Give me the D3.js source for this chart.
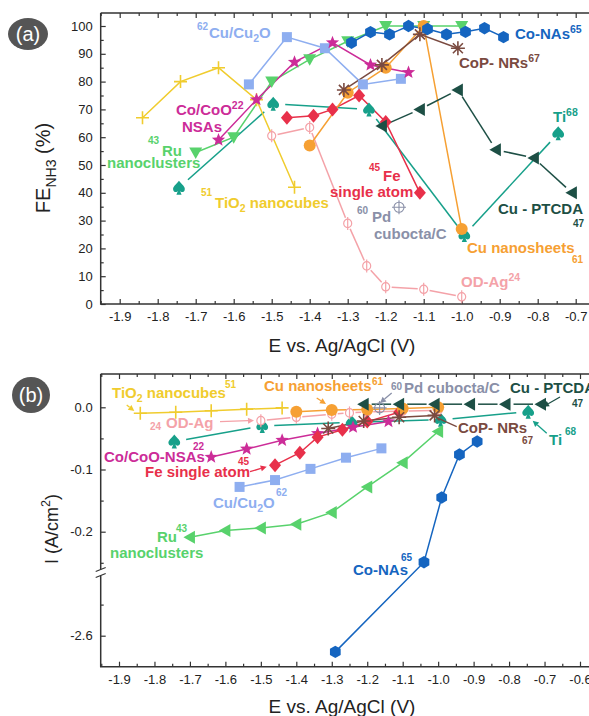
<!DOCTYPE html>
<html><head><meta charset="utf-8">
<script src="https://cdn.jsdelivr.net/npm/d3@7"></script>
<style>
body{margin:0;background:#fff;overflow:hidden}
text{font-family:"Liberation Sans",Arial,Helvetica,sans-serif}
</style>
</head><body>
<svg id="c" width="589" height="716"></svg>
<script>
// ---------------- DATA ----------------
const xTicksA = [-1.9,-1.8,-1.7,-1.6,-1.5,-1.4,-1.3,-1.2,-1.1,-1.0,-0.9,-0.8,-0.7];
const yTicksA = [0,10,20,30,40,50,60,70,80,90,100];
const xTicksB = [-1.9,-1.8,-1.7,-1.6,-1.5,-1.4,-1.3,-1.2,-1.1,-1.0,-0.9,-0.8,-0.7,-0.6];
const yTicksBUpper = [0.0,-0.1,-0.2];
const yTicksBLower = [-2.6];

const tio2E  = [-1.84,-1.74,-1.64,-1.54,-1.44];
const tio2FE = [67,80,85,73.5,42];
const tio2I  = [-0.0095,-0.008,-0.0055,-0.003,-0.001];

const cu2oE  = [-1.56,-1.46,-1.36,-1.26,-1.16];
const cu2oFE = [79,96,92,79,81];
const cu2oI  = [-0.128,-0.117,-0.099,-0.081,-0.066];

const cocoE  = [-1.64,-1.54,-1.44,-1.34,-1.24,-1.14];
const cocoFE = [59,73.5,87,94,86,83.3];
const cocoI  = [-0.080,-0.067,-0.053,-0.042,-0.032,-0.023];

const ruE  = [-1.7,-1.6,-1.5,-1.4,-1.3,-1.2,-1.1,-1.0];
const ruFE = [54.5,60,80,88,94.5,100,100,100];
const ruI  = [-0.209,-0.198,-0.194,-0.188,-0.169,-0.128,-0.089,-0.039];

const conasEA = [-1.29,-1.24,-1.19,-1.14,-1.09,-1.04,-0.99,-0.94,-0.89];
const conasFE = [94,97.8,97,100,98.9,97,97.9,99.2,96];
const conasEB = [-1.29,-1.04,-0.99,-0.94,-0.89];
const conasI  = [-2.626,-0.249,-0.145,-0.076,-0.055];

const copE  = [-1.31,-1.21,-1.11,-1.01];
const copFE = [77,86,97,92];
const copI  = [-0.034,-0.022,-0.016,-0.013];

const cunsE  = [-1.4,-1.3,-1.2,-1.1,-1.0];
const cunsFE = [57,76,85,100,27];
const cunsI  = [-0.007,-0.0045,-0.0035,-0.002,0.0];

const feE  = [-1.46,-1.39,-1.34,-1.27,-1.2,-1.11];
const feFE = [67,67.7,70,75,65.5,40];
const feI  = [-0.093,-0.073,-0.048,-0.036,-0.023,-0.008];

const agE  = [-1.5,-1.4,-1.3,-1.25,-1.2,-1.1,-1.0];
const agFE = [60.5,63.5,29,13.7,6.2,5.3,2.6];
const agI  = [-0.0215,-0.016,-0.011,-0.009,-0.0075,-0.006,-0.005];

const pdE  = [-1.165];
const pdFE = [34.8];
const pdI  = [-0.001];

const tiE  = [-1.744,-1.496,-1.244,-0.993,-0.746];
const tiFE = [41.8,72,70,24.8,61.4];
const tiI  = [-0.055,-0.030,-0.024,-0.020,-0.007];

const ptcdaE  = [-1.21,-1.11,-1.01,-0.91,-0.81,-0.71];
const ptcdaFE = [64,70,77,55.5,52.5,40];
const ptcdaI  = [0.005,0.005,0.005,0.005,0.005,0.005];

// ---------------- STYLE ----------------
const C = {
  tio2:"#f0cc2e", cu2o:"#8eaef0", coco:"#cc2c98", ru:"#58d26c", conas:"#1565c0",
  cop:"#7a4a40", cuns:"#f6a033", fe:"#e8304a", ag:"#f4a2a8", pd:"#8a90a8",
  ti:"#17a08a", ptcda:"#1d4f45"
};

const series = [
  {k:"ti",    m:"spade",  gapA:12, gapB:12, eA:tiE, fe:tiFE, eB:tiE, I:tiI},
  {k:"ag",    m:"phi",    gapA:6,  gapB:6,  eA:agE, fe:agFE, eB:agE, I:agI},
  {k:"tio2",  m:"plus",   gapA:0,  gapB:0,  eA:tio2E, fe:tio2FE, eB:tio2E, I:tio2I},
  {k:"cu2o",  m:"square", gapA:0,  gapB:0,  eA:cu2oE, fe:cu2oFE, eB:cu2oE, I:cu2oI},
  {k:"ru",    m:"tridown",mB:"trileft", gapA:0, gapB:0, eA:ruE, fe:ruFE, eB:ruE, I:ruI},
  {k:"coco",  m:"star",   gapA:0,  gapB:0,  eA:cocoE, fe:cocoFE, eB:cocoE, I:cocoI},
  {k:"fe",    m:"diamond",gapA:0,  gapB:0,  eA:feE, fe:feFE, eB:feE, I:feI},
  {k:"cuns",  m:"circle", gapA:0,  gapB:0,  eA:cunsE, fe:cunsFE, eB:cunsE, I:cunsI},
  {k:"cop",   m:"aster",  gapA:0,  gapB:0,  eA:copE, fe:copFE, eB:copE, I:copI},
  {k:"ptcda", m:"trileft",gapA:8,  gapB:8,  eA:ptcdaE, fe:ptcdaFE, eB:ptcdaE, I:ptcdaI},
  {k:"pd",    m:"oplus",  gapA:0,  gapB:0,  eA:pdE, fe:pdFE, eB:pdE, I:pdI},
  {k:"conas", m:"hex",    gapA:0,  gapB:0,  eA:conasEA, fe:conasFE, eB:conasEB, I:conasI},
];

// ---------------- SCALES ----------------
const xa = d3.scaleLinear().domain([-1.9,-0.7]).range([119.7,575.7]);
const ya = d3.scaleLinear().domain([0,100]).range([304,26]);
const xb = d3.scaleLinear().domain([-1.9,-0.6]).range([119,580]);
const ybU = d3.scaleLinear().domain([-0.2,0]).range([531.7,407.3]);
const ybL = d3.scaleLinear().domain([-2.6,-2.5]).range([635.7,573.5]);
const yb = v => v < -1 ? ybL(v) : ybU(v);

const A = {l:100.7, t:13, b:304};
const B = {l:100.7, t:374, b:666.7};

const svg = d3.select("#c");
svg.append("rect").attr("width",589).attr("height",716).attr("fill","#fff");

// ---------------- MARKERS ----------------
function starPath(R,r){
  let p=[];
  for(let i=0;i<10;i++){
    const a=-Math.PI/2+i*Math.PI/5, rr=i%2?r:R;
    p.push([rr*Math.cos(a), rr*Math.sin(a)]);
  }
  return "M"+p.map(d=>d.join(",")).join("L")+"Z";
}
function hexPath(R){
  let p=[];
  for(let i=0;i<6;i++){const a=-Math.PI/2+i*Math.PI/3;p.push([R*Math.cos(a),R*Math.sin(a)]);}
  return "M"+p.map(d=>d.join(",")).join("L")+"Z";
}
const spadeD = "M0,-7 C2.5,-3.5 7,-1 5.6,2.6 C4.6,5 1.8,4.8 0.9,2.6 L2.6,7 L-2.6,7 L-0.9,2.6 C-1.8,4.8 -4.6,5 -5.6,2.6 C-7,-1 -2.5,-3.5 0,-7 Z";

function marker(g, type, x, y, col){
  const t = g.append("g").attr("transform",`translate(${x},${y})`);
  switch(type){
    case "plus":
      t.append("path").attr("d","M-6.5,0H6.5M0,-6.5V6.5").attr("stroke",col).attr("stroke-width",1.6).attr("fill","none"); break;
    case "square":
      t.append("rect").attr("x",-5).attr("y",-5).attr("width",10).attr("height",10).attr("fill",col); break;
    case "star":
      t.append("path").attr("d",starPath(7,3)).attr("fill",col); break;
    case "tridown":
      t.append("path").attr("d","M-6.5,-5L6.5,-5L0,6.5Z").attr("fill",col); break;
    case "trileft":
      t.append("path").attr("d","M-6.5,0L5,-6.5L5,6.5Z").attr("fill",col); break;
    case "hex":
      t.append("path").attr("d",hexPath(6.2)).attr("fill",col); break;
    case "aster":
      t.append("path").attr("d","M-7,0H7M0,-7V7M-5,-5L5,5M-5,5L5,-5").attr("stroke",col).attr("stroke-width",1.6); break;
    case "circle":
      t.append("circle").attr("r",6).attr("fill",col); break;
    case "diamond":
      t.append("path").attr("d","M0,-7L6,0L0,7L-6,0Z").attr("fill",col); break;
    case "phi":
      t.append("ellipse").attr("rx",4).attr("ry",4.2).attr("fill","#fff").attr("stroke",col).attr("stroke-width",1.2);
      t.append("path").attr("d","M0,-6.5V6.5").attr("stroke",col).attr("stroke-width",1.2); break;
    case "oplus":
      t.append("circle").attr("r",5).attr("fill","none").attr("stroke",col).attr("stroke-width",1.1);
      t.append("path").attr("d","M-7,0H7M0,-7V7").attr("stroke",col).attr("stroke-width",1.1); break;
    case "spade":
      t.append("path").attr("d",spadeD).attr("fill",col); break;
  }
}

function drawSeries(g, pts, col, gap){
  if(gap>0){
    for(let i=0;i<pts.length-1;i++){
      const [x1,y1]=pts[i],[x2,y2]=pts[i+1];
      const dx=x2-x1, dy=y2-y1, L=Math.hypot(dx,dy);
      if(L<=2*gap) continue;
      const ux=dx/L, uy=dy/L;
      g.append("line").attr("x1",x1+ux*gap).attr("y1",y1+uy*gap).attr("x2",x2-ux*gap).attr("y2",y2-uy*gap)
        .attr("stroke",col).attr("stroke-width",1.5);
    }
  } else {
    g.append("path").attr("d",d3.line()(pts)).attr("fill","none").attr("stroke",col).attr("stroke-width",1.5);
  }
}

// ---------------- TEXT HELPER ----------------
function rich(g, x, y, str, col, size, opts={}){
  const t = g.append("text").attr("x",x).attr("y",y).attr("fill",col)
    .attr("font-size",size).attr("font-weight",opts.w||"bold");
  if(opts.anchor) t.attr("text-anchor",opts.anchor);
  if(opts.rot) t.attr("transform",`rotate(${opts.rot},${x},${y})`);
  const re = /([_^])\{([^}]*)\}/g;
  let last=0, m, cur=0;
  const parts=[];
  while((m=re.exec(str))){ if(m.index>last) parts.push({t:str.slice(last,m.index)}); parts.push({t:m[2],s:m[1]}); last=re.lastIndex; }
  if(last<str.length) parts.push({t:str.slice(last)});
  parts.forEach(p=>{
    const target = p.s==="^" ? -size*0.42 : p.s==="_" ? size*0.28 : 0;
    const fs = p.s ? size*0.7 : size;
    t.append("tspan").attr("dy",target-cur).attr("font-size",fs).text(p.t);
    cur=target;
  });
  return t;
}

// ---------------- AXES ----------------
const fmt = d => d.toFixed(1);
function minorBetween(arr){ const o=[]; for(let i=0;i<arr.length-1;i++) o.push((arr[i]+arr[i+1])/2); return o; }

function styleAxis(sel){
  sel.select(".domain").remove();
  sel.selectAll(".tick line").attr("stroke","#333").attr("stroke-width",1.2);
  sel.selectAll(".tick text").attr("fill","#222").attr("font-size",13).attr("font-family","Liberation Sans, Arial, sans-serif");
}

// Panel A
const gA = svg.append("g");
const xMinA = minorBetween(xTicksA).concat([-1.95,-0.65]);
gA.append("g").attr("transform",`translate(0,${A.b})`).call(d3.axisBottom(xa).tickValues(xTicksA).tickSize(-5).tickPadding(8).tickFormat(d=>d.toFixed(1))).call(styleAxis);
gA.append("g").attr("transform",`translate(0,${A.b})`).call(d3.axisBottom(xa).tickValues(xMinA).tickSize(-3).tickFormat("")).call(styleAxis);
gA.append("g").attr("transform",`translate(0,${A.t})`).call(d3.axisTop(xa).tickValues(xTicksA).tickSize(-5).tickFormat("")).call(styleAxis);
gA.append("g").attr("transform",`translate(0,${A.t})`).call(d3.axisTop(xa).tickValues(xMinA).tickSize(-3).tickFormat("")).call(styleAxis);
gA.append("g").attr("transform",`translate(${A.l},0)`).call(d3.axisLeft(ya).tickValues(yTicksA).tickSize(-5).tickPadding(8).tickFormat(d=>d)).call(styleAxis);
gA.append("g").attr("transform",`translate(${A.l},0)`).call(d3.axisLeft(ya).tickValues(minorBetween(yTicksA)).tickSize(-3).tickFormat("")).call(styleAxis);
gA.append("path").attr("d",`M${A.l},${A.t}V${A.b}H600M${A.l},${A.t}H600`).attr("fill","none").attr("stroke","#333").attr("stroke-width",1.5);

// Panel B
const gB = svg.append("g");
const xMinB = minorBetween(xTicksB).concat([-1.95,-0.55]);
gB.append("g").attr("transform",`translate(0,${B.b})`).call(d3.axisBottom(xb).tickValues(xTicksB).tickSize(-5).tickPadding(8).tickFormat(d=>d.toFixed(1))).call(styleAxis);
gB.append("g").attr("transform",`translate(0,${B.b})`).call(d3.axisBottom(xb).tickValues(xMinB).tickSize(-3).tickFormat("")).call(styleAxis);
gB.append("g").attr("transform",`translate(0,${B.t})`).call(d3.axisTop(xb).tickValues(xTicksB).tickSize(-5).tickFormat("")).call(styleAxis);
gB.append("g").attr("transform",`translate(0,${B.t})`).call(d3.axisTop(xb).tickValues(xMinB).tickSize(-3).tickFormat("")).call(styleAxis);
gB.append("g").attr("transform",`translate(${B.l},0)`).call(d3.axisLeft(ybU).tickValues(yTicksBUpper).tickSize(-5).tickPadding(8).tickFormat(fmt)).call(styleAxis);
gB.append("g").attr("transform",`translate(${B.l},0)`).call(d3.axisLeft(ybU).tickValues([-0.05,-0.15,-0.25]).tickSize(-3).tickFormat("")).call(styleAxis);
gB.append("g").attr("transform",`translate(${B.l},0)`).call(d3.axisLeft(ybL).tickValues(yTicksBLower).tickSize(-5).tickPadding(8).tickFormat(fmt)).call(styleAxis);
gB.append("g").attr("transform",`translate(${B.l},0)`).call(d3.axisLeft(ybL).tickValues([-2.55]).tickSize(-3).tickFormat("")).call(styleAxis);
const brk = 572.5;
gB.append("path").attr("d",`M${B.l},${B.t}V${brk-3}M${B.l},${brk+3}V${B.b}H600M${B.l},${B.t}H600`).attr("fill","none").attr("stroke","#333").attr("stroke-width",1.5);
gB.append("path").attr("d",`M${B.l-5},${brk-1}L${B.l+5},${brk-5}M${B.l-5},${brk+5}L${B.l+5},${brk+1}`).attr("stroke","#333").attr("stroke-width",1.2);

// axis titles
rich(svg, 342, 352, "E vs. Ag/AgCl (V)", "#222", 19, {w:"normal",anchor:"middle"});
rich(svg, 342, 713, "E vs. Ag/AgCl (V)", "#222", 19, {w:"normal",anchor:"middle"});
rich(svg, 50, 168, "FE_{NH3} (%)", "#222", 20, {w:"normal",anchor:"middle",rot:-90});
rich(svg, 58, 529, "I (A/cm^{2})", "#222", 18, {w:"normal",anchor:"middle",rot:-90});

// badges
svg.append("ellipse").attr("cx",28).attr("cy",34).attr("rx",20).attr("ry",16).attr("fill","#555");
svg.append("text").attr("x",28).attr("y",41).attr("text-anchor","middle").attr("fill","#fff").attr("font-size",20).text("(a)");
svg.append("ellipse").attr("cx",31).attr("cy",395).attr("rx",19).attr("ry",18).attr("fill","#555");
svg.append("text").attr("x",31).attr("y",402).attr("text-anchor","middle").attr("fill","#fff").attr("font-size",20).text("(b)");

// ---------------- SERIES ----------------
const dA = svg.append("g"), dB = svg.append("g");
series.forEach(s=>{
  const col = C[s.k];
  const pA = s.eA.map((e,i)=>[xa(e), ya(s.fe[i])]);
  drawSeries(dA, pA, col, s.gapA);
  const pB = s.eB.map((e,i)=>[xb(e), yb(s.I[i])]);
  drawSeries(dB, pB, col, s.gapB);
});
series.forEach(s=>{
  const col = C[s.k];
  s.eA.forEach((e,i)=>marker(dA, s.m, xa(e), ya(s.fe[i]), col));
  s.eB.forEach((e,i)=>marker(dB, s.mB||s.m, xb(e), yb(s.I[i]), col));
});

// ---------------- ANNOTATIONS ----------------
const annA = [
  ["62",197,30,C.cu2o,10], ["Cu/Cu_{2}O",209,38,C.cu2o,15],
  ["Co-NAs^{65}",515,39,C.conas,15],
  ["CoP- NRs^{67}",459,68,C.cop,15],
  ["Co/CoO^{22}",176,115,C.coco,15], ["NSAs",182,132,C.coco,15],
  ["43",148,144,C.ru,10], ["Ru",162,156,C.ru,15], ["nanoclusters",107,168,C.ru,15],
  ["51",201,196,C.tio2,10], ["TiO_{2} nanocubes",215,208,C.tio2,15],
  ["45",369,171,C.fe,10], ["Fe",383,181,C.fe,15], ["single atom",330,197,C.fe,15],
  ["60",357,214,C.pd,10], ["Pd",372,222,C.pd,15], ["cubocta/C",374,239,C.pd,15],
  ["Cu nanosheets",467,253,C.cuns,15], ["61",572,263,C.cuns,10],
  ["OD-Ag^{24}",461,287,C.ag,15],
  ["Cu - PTCDA",498,214,C.ptcda,15], ["47",573,227,C.ptcda,10],
  ["Ti^{68}",553,122,C.ti,15],
];
const annB = [
  ["TiO_{2} nanocubes",112,398,C.tio2,15], ["51",225,388,C.tio2,10],
  ["Cu nanosheets",264,391,C.cuns,15], ["61",372,385,C.cuns,10],
  ["60",391,390,C.pd,10], ["Pd cubocta/C",404,393,C.pd,15],
  ["Cu - PTCDA",510,393,C.ptcda,15], ["47",572,407,C.ptcda,10],
  ["24",150,430,C.ag,10], ["OD-Ag",166,428,C.ag,15],
  ["Co/CoO-NSAs",104,462,C.coco,15], ["22",193,450,C.coco,10],
  ["Fe single atom",145,477,C.fe,15], ["45",238,465,C.fe,10],
  ["Cu/Cu_{2}O",213,508,C.cu2o,15], ["62",276,496,C.cu2o,10],
  ["Ru",157,542,C.ru,15], ["43",176,532,C.ru,10], ["nanoclusters",110,558,C.ru,15],
  ["Co-NAs",353,575,C.conas,15], ["65",401,561,C.conas,10],
  ["CoP- NRs",458,433,C.cop,15], ["67",522,444,C.cop,10],
  ["Ti",549,445,C.ti,15], ["68",565,435,C.ti,10],
];
annA.forEach(a=>rich(svg,a[1],a[2],a[0],a[3],a[4]));
annB.forEach(a=>{
  const t = rich(svg,a[1],a[2],a[0],a[3],a[4]);
  if(a[0]==="Co-NAs") t.attr("stroke","#fff").attr("stroke-width",4).attr("paint-order","stroke");
});

// arrows (panel b)
const arrows = [
  [126.7,405,134.3,411,C.tio2],
  [316.7,398,326,404,C.cuns],
  [391.7,393,380,403,C.pd],
  [560,397,543,406.7,C.ptcda],
  [220,421.7,254,420.5,C.ag],
  [250,471.7,266.7,466.7,C.fe],
  [546.7,433.3,532.7,420.7,C.ti],
];
arrows.forEach(a=>{
  const [x1,y1,x2,y2,col]=a;
  const ang=Math.atan2(y2-y1,x2-x1), L=6, w=3;
  const bx=x2-L*Math.cos(ang), by=y2-L*Math.sin(ang);
  svg.append("line").attr("x1",x1).attr("y1",y1).attr("x2",bx).attr("y2",by).attr("stroke",col).attr("stroke-width",1.3);
  svg.append("path").attr("d",`M${x2},${y2}L${bx-w*Math.sin(ang)},${by+w*Math.cos(ang)}L${bx+w*Math.sin(ang)},${by-w*Math.cos(ang)}Z`).attr("fill",col);
});
svg.append("line").attr("x1",456.7).attr("y1",426.7).attr("x2",438.3).attr("y2",418.3).attr("stroke",C.cop).attr("stroke-width",1.3);
</script>
</body></html>
